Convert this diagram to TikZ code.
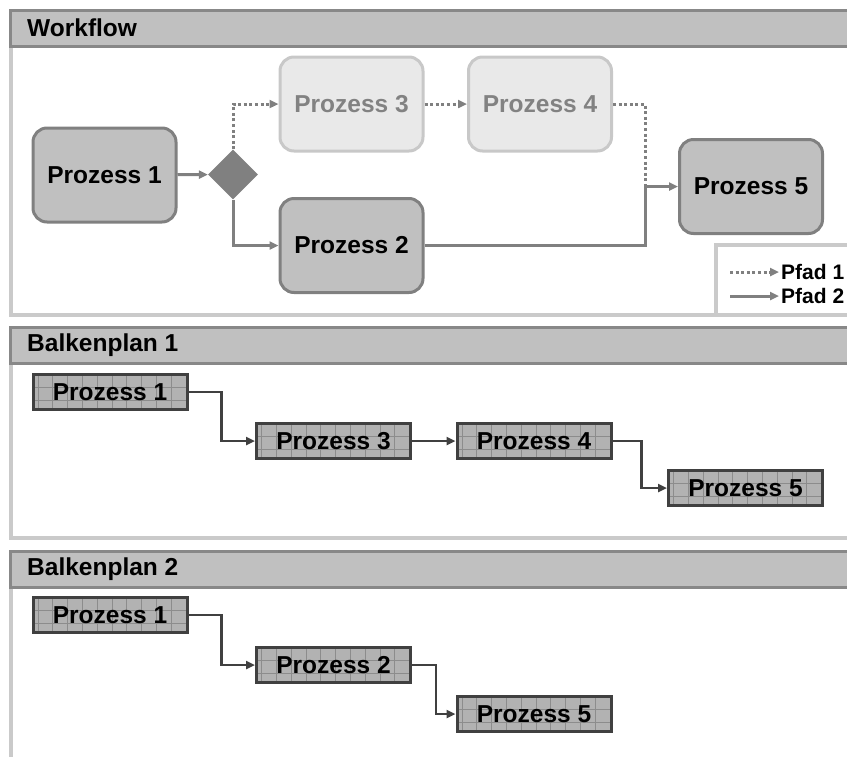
\documentclass[tikz,border=0pt]{standalone}
\usepackage{fontspec}
\setmainfont{Liberation Sans}
\usetikzlibrary{shapes.geometric,arrows.meta}
\definecolor{hdrfill}{HTML}{C0C0C0}
\definecolor{hdrline}{HTML}{888888}
\definecolor{frameline}{HTML}{CACACA}
\definecolor{boxfill}{HTML}{C0C0C0}
\definecolor{boxline}{HTML}{808080}
\definecolor{lightfill}{HTML}{E9E9E9}
\definecolor{lightline}{HTML}{C8C8C8}
\definecolor{lighttext}{HTML}{828282}
\definecolor{conncol}{HTML}{808080}
\definecolor{barfill}{HTML}{B2B2B2}
\definecolor{bargrid}{HTML}{8C8C8C}
\definecolor{barline}{HTML}{404040}
\tikzset{
  bigfont/.style={font=\fontsize{24.5}{28}\selectfont\bfseries},
  hdr/.style={fill=hdrfill,draw=hdrline,line width=3pt},
  hdrtext/.style={anchor=west,inner sep=0pt,bigfont},
  frame/.style={draw=frameline,line width=3.5pt},
  wfbox/.style={rounded corners=14pt,draw=boxline,fill=boxfill,line width=3pt,
     minimum width=143pt,minimum height=94pt,inner sep=0pt,bigfont},
  wflight/.style={wfbox,draw=lightline,fill=lightfill,text=lighttext},
  dia/.style={diamond,aspect=1,fill=conncol,inner sep=0pt,minimum width=50pt,minimum height=50pt},
  conn/.style={draw=conncol,line width=3pt,-{Triangle[length=9pt,width=8pt]}},
  connd/.style={conn,dash pattern=on 3pt off 2.6pt},
  dotline/.style={draw=conncol,line width=3pt,dash pattern=on 3pt off 2.6pt},
  barbox/.style={draw=barline,fill=barfill,line width=3pt,minimum width=154pt,minimum height=35pt,
     inner sep=0pt,bigfont,
     path picture={\draw[bargrid,line width=0.7pt,xstep=14.8pt,ystep=13pt]
        (path picture bounding box.south west) grid (path picture bounding box.north east);}},
  gconn/.style={draw=barline,line width=2.5pt,-{Triangle[length=9pt,width=8pt]}},
  legtext/.style={anchor=west,inner sep=0pt,font=\fontsize{21}{24}\selectfont\bfseries}
}
\begin{document}
\begin{tikzpicture}[x=1pt,y=-1pt]
\useasboundingbox (0,0) rectangle (847,756);
% ---------- frames ----------
\draw[frame] (11,46) -- (11,315) -- (852,315);
\draw[frame] (716,315) -- (716,245) -- (852,245);
\draw[hdr] (10,10) rectangle (852,46);
\node[hdrtext] (h1) at (27,28) {Workflow};

\draw[frame] (11,363) -- (11,538) -- (852,538);
\draw[hdr] (10,327) rectangle (852,363);
\node[hdrtext] (h2) at (27,345) {Balkenplan 1};

\draw[frame] (11,587) -- (11,760);
\draw[hdr] (10,551) rectangle (852,587);
\node[hdrtext] (h3) at (27,569) {Balkenplan 2};

% ---------- workflow ----------
\node[wfbox] (p1) at (104.5,175) {Prozess 1};
\node[dia] (d) at (233,174.5) {};
\node[wflight] (p3) at (351.5,104) {Prozess 3};
\node[wflight] (p4) at (540,104) {Prozess 4};
\node[wfbox] (p2) at (351.5,245.5) {Prozess 2};
\node[wfbox] (p5) at (751,186.5) {Prozess 5};
\coordinate (j) at (645,186.5);

\draw[conn] (p1) -- (d);
\draw[connd] (d.north) |- (p3);
\draw[connd] (p3) -- (p4);
\draw[dotline] (p4.east) -| (j);
\draw[conn] (d.south) |- (p2);
\draw[conn] (p2.east) -| (j) -- (p5);

% legend
\coordinate (l1a) at (730,272);
\coordinate (l1b) at (779,272);
\coordinate (l2a) at (730,296);
\coordinate (l2b) at (779,296);
\draw[connd] (l1a) -- (l1b);
\draw[conn] (l2a) -- (l2b);
\node[legtext] (t1) at (781,272) {Pfad 1};
\node[legtext] (t2) at (781,296) {Pfad 2};

% ---------- Balkenplan 1 ----------
\node[barbox] (a1) at (110,392) {Prozess 1};
\node[barbox] (a3) at (333.5,441) {Prozess 3};
\node[barbox] (a4) at (534,441) {Prozess 4};
\node[barbox] (a5) at (745.5,488) {Prozess 5};
\draw[gconn] (a1.east) -- ++(33,0) |- (a3);
\draw[gconn] (a3) -- (a4);
\draw[gconn] (a4.east) -- ++(29,0) |- (a5);

% ---------- Balkenplan 2 ----------
\node[barbox] (b1) at (110,615) {Prozess 1};
\node[barbox] (b2) at (333.5,665) {Prozess 2};
\node[barbox] (b5) at (534,714) {Prozess 5};
\draw[gconn] (b1.east) -- ++(33,0) |- (b2);
\draw[gconn] (b2.east) -- ++(24,0) |- (b5);
\end{tikzpicture}
\end{document}
